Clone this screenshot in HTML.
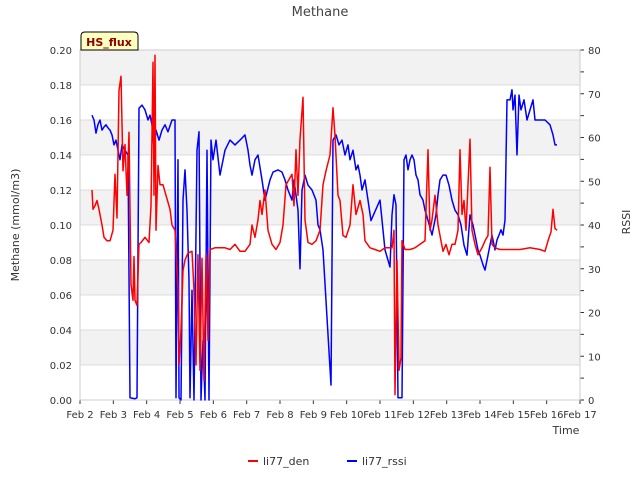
<!DOCTYPE html>
<html><head><meta charset="utf-8"><style>
body{margin:0;background:#fff;}
svg text{font-family:"DejaVu Sans","Liberation Sans",sans-serif;}
</style></head><body>
<svg id="chart" width="640" height="480" xmlns="http://www.w3.org/2000/svg">
<g id="bands"></g><g id="grid"></g><g id="axes"></g><g id="series"></g>
<text x="320" y="16" text-anchor="middle" font-size="13" fill="#444">Methane</text>
<text x="566" y="434" text-anchor="middle" font-size="11" fill="#333">Time</text>
<text transform="translate(19,225) rotate(-90)" text-anchor="middle" font-size="11" fill="#333">Methane (mmol/m3)</text>
<text transform="translate(630,222) rotate(-90)" text-anchor="middle" font-size="11" fill="#333">RSSI</text>
<g><path d="M81,50 L81,36 Q81,32 85,32 L134,32 Q138,32 138,36 L138,50 Z" fill="#ffffc0" stroke="#000" stroke-width="1"/>
<text x="109" y="46" text-anchor="middle" font-size="11" font-weight="bold" fill="#8b0000">HS_flux</text></g>
<g>
<line x1="248" y1="461" x2="258" y2="461" stroke="#f00" stroke-width="2"/>
<text x="263" y="465" font-size="11" fill="#333">li77_den</text>
<line x1="347" y1="461" x2="357" y2="461" stroke="#00f" stroke-width="2"/>
<text x="362" y="465" font-size="11" fill="#333">li77_rssi</text>
</g>
</svg>
<script>
const xTickLabels=["Feb 2","Feb 3","Feb 4","Feb 5","Feb 6","Feb 7","Feb 8","Feb 9","Feb 10","Feb 11","Feb 12","Feb 13","Feb 14","Feb 15","Feb 16","Feb 17"];
const yTicks=[0,0.02,0.04,0.06,0.08,0.10,0.12,0.14,0.16,0.18,0.20];
const y2Ticks=[0,10,20,30,40,50,60,70,80];
const denT=[0.36,0.39,0.45,0.51,0.57,0.66,0.72,0.81,0.90,0.99,1.05,1.11,1.17,1.23,1.29,1.35,1.41,1.47,1.53,1.59,1.62,1.65,1.71,1.77,1.83,1.95,2.07,2.13,2.19,2.22,2.25,2.28,2.34,2.40,2.49,2.58,2.70,2.76,2.85,2.94,2.97,3.03,3.09,3.15,3.24,3.36,3.42,3.48,3.54,3.60,3.66,3.72,3.78,3.84,3.90,4.05,4.35,4.50,4.65,4.80,4.95,5.10,5.16,5.25,5.34,5.40,5.46,5.55,5.64,5.76,5.88,6.00,6.09,6.18,6.27,6.36,6.42,6.48,6.54,6.60,6.69,6.75,6.84,6.96,7.08,7.20,7.29,7.38,7.50,7.59,7.65,7.74,7.80,7.89,7.98,8.10,8.19,8.28,8.40,8.49,8.55,8.70,8.85,9.00,9.15,9.36,9.42,9.45,9.51,9.57,9.63,9.66,9.75,9.90,10.05,10.20,10.35,10.44,10.50,10.56,10.65,10.74,10.80,10.89,10.98,11.07,11.16,11.25,11.34,11.40,11.46,11.52,11.58,11.64,11.70,11.76,11.85,11.94,12.06,12.15,12.24,12.30,12.36,12.45,12.60,12.90,13.20,13.50,13.80,13.95,14.04,14.13,14.19,14.25,14.31];
const denV=[0.120,0.109,0.111,0.114,0.109,0.100,0.093,0.091,0.091,0.097,0.129,0.104,0.177,0.185,0.131,0.146,0.117,0.153,0.066,0.057,0.082,0.057,0.054,0.089,0.090,0.093,0.090,0.111,0.193,0.117,0.197,0.097,0.134,0.123,0.123,0.117,0.109,0.100,0.097,0.063,0.020,0.040,0.074,0.080,0.084,0.085,0.063,0.020,0.083,0.017,0.081,0.011,0.083,0.034,0.086,0.087,0.087,0.086,0.089,0.085,0.085,0.089,0.100,0.093,0.103,0.114,0.106,0.120,0.097,0.089,0.086,0.090,0.100,0.123,0.126,0.129,0.111,0.143,0.117,0.149,0.173,0.103,0.090,0.089,0.091,0.097,0.123,0.131,0.140,0.167,0.151,0.117,0.114,0.094,0.093,0.100,0.123,0.106,0.114,0.106,0.091,0.087,0.086,0.085,0.087,0.087,0.097,0.003,0.080,0.017,0.024,0.091,0.086,0.086,0.087,0.089,0.091,0.143,0.097,0.103,0.117,0.100,0.094,0.085,0.089,0.083,0.089,0.089,0.097,0.143,0.106,0.114,0.097,0.123,0.149,0.097,0.089,0.083,0.087,0.091,0.094,0.133,0.089,0.087,0.086,0.086,0.086,0.087,0.086,0.085,0.091,0.096,0.109,0.098,0.097];
const rssiT=[0.36,0.42,0.48,0.54,0.60,0.66,0.72,0.78,0.84,0.90,0.96,1.02,1.08,1.14,1.20,1.26,1.35,1.44,1.50,1.65,1.71,1.77,1.86,1.95,2.04,2.10,2.16,2.22,2.28,2.37,2.46,2.55,2.64,2.76,2.85,2.88,2.94,2.97,3.03,3.09,3.15,3.21,3.27,3.30,3.36,3.42,3.51,3.57,3.63,3.69,3.75,3.81,3.87,3.93,3.99,4.08,4.20,4.35,4.50,4.65,4.80,4.95,5.04,5.10,5.16,5.25,5.34,5.46,5.55,5.70,5.79,5.94,6.06,6.15,6.24,6.36,6.42,6.54,6.60,6.66,6.75,6.84,6.96,7.08,7.14,7.20,7.29,7.53,7.59,7.68,7.77,7.86,7.95,8.04,8.10,8.19,8.28,8.34,8.40,8.46,8.55,8.64,8.73,9.00,9.15,9.30,9.36,9.42,9.48,9.54,9.66,9.72,9.78,9.84,9.90,9.96,10.02,10.08,10.14,10.20,10.29,10.35,10.44,10.56,10.68,10.74,10.80,10.89,10.98,11.07,11.16,11.25,11.34,11.43,11.52,11.61,11.70,11.79,11.88,11.94,12.00,12.09,12.15,12.24,12.30,12.36,12.45,12.51,12.57,12.63,12.69,12.75,12.81,12.90,12.96,12.99,13.05,13.11,13.17,13.23,13.32,13.41,13.50,13.59,13.65,13.71,13.95,14.10,14.19,14.25,14.31];
const rssiV=[65.1,64,61,63,64,61.7,62.4,62.9,62.2,61.7,60.6,58.3,59.4,57.1,54.9,58.3,57.1,56,0.5,0.3,0.5,66.7,67.4,66.3,64,65.1,62.9,57.6,61.7,59.4,61.7,62.9,61.3,64,64,0.5,54.9,0.5,0,45.7,52.6,43.4,27.4,0.5,25.1,0,57.1,61.3,0,13.7,0,57.1,0,59.4,54.9,59.4,51.4,57.1,59.4,58.3,59.4,60.6,57.1,53.7,51.4,54.9,56,50.3,45.7,50.3,52.1,52.6,52.1,50.3,48,45.7,50.3,43.4,30,48,51.4,49.1,48,45.7,40,38.9,34.3,3.4,59.4,60.6,58.3,59.4,56,58.3,54.9,57.1,52.6,53.7,51.4,48,50.3,45.7,41,45.7,34.3,30.4,42.3,46.9,44.6,0.5,0.5,54.9,56,52.6,54.9,56,54.9,51.4,50.3,46.9,45.7,43.4,41.1,37.7,42.3,46.9,50.3,51.4,51.4,49.1,45.7,43.4,42.3,40,35.4,33.1,42.3,40,36.6,34.3,33.1,30.9,29.7,33.1,35.4,37.7,34.3,36.6,37.7,38.9,37.7,41.1,68.6,68.6,70.9,66.3,69.7,56,69.7,66.3,68.6,64,66.3,68.6,64,64,64,62.9,60.6,58.3,58.3];

const NS="http://www.w3.org/2000/svg";
const L=80,R=580,T=50,B=400;
const xs=d=>L+d*(R-L)/15;
const ys=v=>B-v*(B-T)/0.20;
const ys2=v=>B-v*(B-T)/80;
function mk(tag,attrs,parent){const e=document.createElementNS(NS,tag);for(const k in attrs)e.setAttribute(k,attrs[k]);document.getElementById(parent).appendChild(e);return e;}
for(let i=0;i<yTicks.length-1;i++){
  if(i%2===1){const r=mk('rect',{x:L,y:ys(yTicks[i+1]),width:R-L,height:ys(yTicks[i])-ys(yTicks[i+1]),fill:'#f2f2f2'},'bands');
  
  }
}
yTicks.forEach(v=>{
  const g=mk('line',{x1:L,x2:R,y1:ys(v),y2:ys(v),stroke:'#dcdcdc','stroke-width':1},'grid');
  
  
  const t=mk('text',{x:L-8,y:ys(v)+4,'text-anchor':'end','font-size':10,fill:'#333'},'axes');
  t.textContent=v.toFixed(2);
  
  
});
y2Ticks.forEach((v,i)=>{
  const t=mk('text',{x:R+8,y:ys2(v)+4,'font-size':10,fill:'#333'},'axes');
  t.textContent=v;
  
  
  mk('line',{x1:R,x2:R+4,y1:ys2(v),y2:ys2(v),stroke:'#333'},'axes');
  if(i<y2Ticks.length-1)mk('line',{x1:R,x2:R+4,y1:ys2(v+5),y2:ys2(v+5),stroke:'#333'},'axes');
});
xTickLabels.forEach((s,i)=>{
  const t=mk('text',{x:xs(i),y:418,'text-anchor':'middle','font-size':10,fill:'#333'},'axes');
  t.textContent=s;
  
  
  mk('line',{x1:xs(i),x2:xs(i),y1:B,y2:B+4,stroke:'#333'},'axes');
});
mk('rect',{x:L,y:T,width:R-L,height:B-T,fill:'none',stroke:'#ccc'},'axes');
const pd=denT.map((t,i)=>(i?'L':'M')+xs(t).toFixed(1)+','+ys(denV[i]).toFixed(1)).join('');
const pr=rssiT.map((t,i)=>(i?'L':'M')+xs(t).toFixed(1)+','+ys2(rssiV[i]).toFixed(1)).join('');
const lr=mk('path',{d:pr,fill:'none',stroke:'#0000ff','stroke-width':1.5,'stroke-linejoin':'round'},'series');


const ld=mk('path',{d:pd,fill:'none',stroke:'#ff0000','stroke-width':1.5,'stroke-linejoin':'round'},'series');


</script>
</body></html>
